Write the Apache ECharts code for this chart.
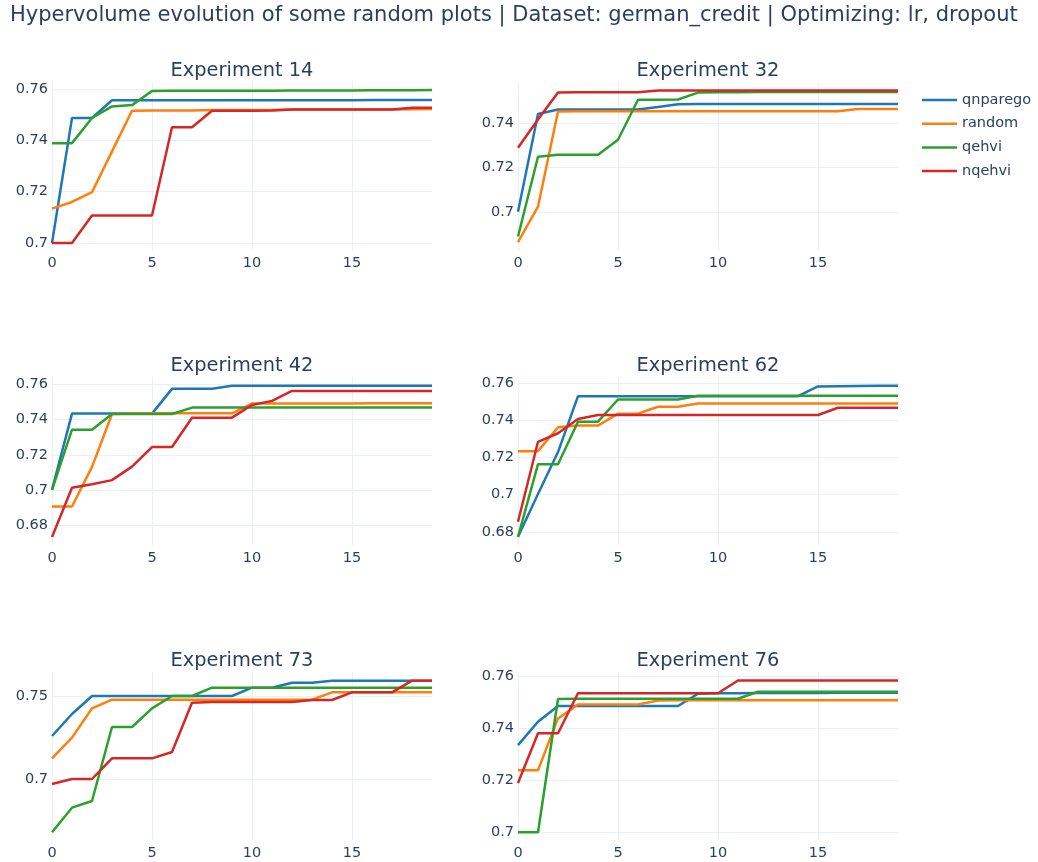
<!DOCTYPE html>
<html>
<head>
<meta charset="utf-8">
<script src="https://cdn.jsdelivr.net/npm/echarts@6/dist/echarts.min.js"></script>
<style>
html,body{margin:0;padding:0;background:#fff;}
#chart{width:1038px;height:862px;}
</style>
</head>
<body>
<div id="chart"></div>
<script>
// ---------- data ----------
const iterations = [0,1,2,3,4,5,6,7,8,9,10,11,12,13,14,15,16,17,18,19];
const seriesNames = ['qnparego','random','qehvi','nqehvi'];
const experimentTitles = ['Experiment 14','Experiment 32','Experiment 42','Experiment 62','Experiment 73','Experiment 76'];

const exp14_qnparego = [0.700,0.7487,0.7487,0.7556,0.7556,0.7556,0.7556,0.7556,0.7556,0.7556,0.7556,0.7556,0.7556,0.7556,0.7556,0.7556,0.7557,0.7557,0.7557,0.7557];
const exp14_random   = [0.7134,0.716,0.7198,0.7357,0.7515,0.7516,0.7516,0.7516,0.7518,0.7518,0.7518,0.7518,0.752,0.752,0.752,0.752,0.752,0.752,0.7521,0.7522];
const exp14_qehvi    = [0.7389,0.7389,0.7487,0.7532,0.7537,0.7592,0.7593,0.7593,0.7593,0.7593,0.7593,0.7593,0.7594,0.7594,0.7594,0.7594,0.7595,0.7595,0.7595,0.7596];
const exp14_nqehvi   = [0.700,0.700,0.7107,0.7107,0.7107,0.7107,0.7451,0.7451,0.7515,0.7515,0.7515,0.7516,0.752,0.752,0.752,0.752,0.752,0.752,0.7527,0.7527];

const exp32_qnparego = [0.700,0.7442,0.7463,0.7463,0.7463,0.7463,0.7463,0.7474,0.7486,0.7487,0.7487,0.7487,0.7487,0.7487,0.7487,0.7487,0.7487,0.7487,0.7487,0.7487];
const exp32_random   = [0.6863,0.7023,0.7454,0.7455,0.7455,0.7455,0.7455,0.7455,0.7455,0.7455,0.7455,0.7455,0.7455,0.7455,0.7455,0.7455,0.7455,0.7465,0.7465,0.7465];
const exp32_qehvi    = [0.6888,0.7249,0.7258,0.7258,0.7258,0.7326,0.7507,0.7507,0.7508,0.7539,0.7541,0.7541,0.7542,0.7542,0.7542,0.7542,0.7542,0.7542,0.7542,0.7542];
const exp32_nqehvi   = [0.729,0.7417,0.754,0.7541,0.7541,0.7541,0.7541,0.7548,0.7548,0.7548,0.7548,0.7548,0.7548,0.7548,0.7548,0.7548,0.7548,0.7548,0.7548,0.7548];

const exp42_qnparego = [0.7003,0.7434,0.7434,0.7434,0.7434,0.7434,0.7574,0.7574,0.7574,0.7591,0.7591,0.7591,0.7591,0.7591,0.7591,0.7591,0.7592,0.7592,0.7592,0.7592];
const exp42_random   = [0.6909,0.6909,0.7133,0.7432,0.7434,0.7436,0.7436,0.7436,0.7436,0.7436,0.7491,0.7491,0.7491,0.7491,0.7491,0.7491,0.7492,0.7492,0.7492,0.7492];
const exp42_qehvi    = [0.7003,0.7343,0.7343,0.7432,0.7432,0.7432,0.7432,0.7468,0.7468,0.7468,0.7468,0.7468,0.7468,0.7468,0.7468,0.7468,0.7468,0.7468,0.7468,0.7468];
const exp42_nqehvi   = [0.6736,0.7015,0.7034,0.7058,0.7134,0.7245,0.7245,0.7411,0.7411,0.7411,0.7483,0.7506,0.7562,0.7562,0.7562,0.7562,0.7562,0.7562,0.7562,0.7562];

const exp62_qnparego = [0.6773,0.7003,0.7228,0.7528,0.7528,0.7528,0.7528,0.7528,0.7528,0.7528,0.7528,0.7528,0.7528,0.7528,0.7528,0.758,0.7582,0.7583,0.7584,0.7584];
const exp62_random   = [0.7233,0.7233,0.7361,0.737,0.737,0.7434,0.7434,0.7471,0.7471,0.7489,0.7489,0.7489,0.7489,0.7489,0.7489,0.7489,0.7489,0.7489,0.7489,0.7489];
const exp62_qehvi    = [0.6773,0.7163,0.7163,0.7391,0.7391,0.751,0.751,0.751,0.751,0.753,0.753,0.753,0.753,0.753,0.753,0.753,0.753,0.753,0.753,0.753];
const exp62_nqehvi   = [0.6854,0.7283,0.7329,0.7405,0.7427,0.7427,0.7427,0.7427,0.7427,0.7427,0.7427,0.7427,0.7427,0.7427,0.7427,0.7427,0.7466,0.7466,0.7466,0.7466];

const exp73_qnparego = [0.726,0.7392,0.750,0.750,0.750,0.750,0.750,0.750,0.750,0.750,0.755,0.755,0.758,0.758,0.7592,0.7592,0.7592,0.7592,0.7592,0.7592];
const exp73_random   = [0.7126,0.725,0.7426,0.7478,0.7478,0.7478,0.7478,0.7478,0.7478,0.7478,0.7478,0.7478,0.7478,0.7478,0.7522,0.7522,0.7522,0.7522,0.7522,0.7522];
const exp73_qehvi    = [0.6682,0.683,0.687,0.7314,0.7314,0.7426,0.750,0.750,0.755,0.755,0.755,0.755,0.755,0.755,0.755,0.755,0.755,0.755,0.755,0.755];
const exp73_nqehvi   = [0.6972,0.7002,0.7002,0.7126,0.7126,0.7126,0.7164,0.746,0.7464,0.7464,0.7464,0.7464,0.7464,0.7476,0.7476,0.7522,0.7522,0.7522,0.7592,0.7592];

const exp76_qnparego = [0.7336,0.7426,0.7487,0.7487,0.7487,0.7487,0.7487,0.7487,0.7487,0.7534,0.7536,0.7536,0.7537,0.7537,0.7537,0.7537,0.7538,0.7538,0.7538,0.7538];
const exp76_random   = [0.7239,0.7239,0.7439,0.7493,0.7493,0.7493,0.7493,0.7508,0.7509,0.7509,0.7509,0.7509,0.7509,0.7509,0.7509,0.7509,0.7509,0.7509,0.7509,0.7509];
const exp76_qehvi    = [0.700,0.700,0.7514,0.7515,0.7515,0.7515,0.7515,0.7515,0.7515,0.7515,0.7515,0.7515,0.7542,0.7542,0.7542,0.7542,0.7542,0.7542,0.7542,0.7542];
const exp76_nqehvi   = [0.719,0.7382,0.7382,0.7536,0.7536,0.7536,0.7536,0.7536,0.7536,0.7536,0.7536,0.7585,0.7585,0.7585,0.7585,0.7585,0.7585,0.7585,0.7585,0.7585];

const experiments = [
  [exp14_qnparego, exp14_random, exp14_qehvi, exp14_nqehvi],
  [exp32_qnparego, exp32_random, exp32_qehvi, exp32_nqehvi],
  [exp42_qnparego, exp42_random, exp42_qehvi, exp42_nqehvi],
  [exp62_qnparego, exp62_random, exp62_qehvi, exp62_nqehvi],
  [exp73_qnparego, exp73_random, exp73_qehvi, exp73_nqehvi],
  [exp76_qnparego, exp76_random, exp76_qehvi, exp76_nqehvi]
];

// ---------- layout / style ----------
const colors = ['#1f77b4','#ff7f0e','#2ca02c','#d62728'];
const textColor = '#2a3f5f';
const gridColor = '#ebf0f8';
const font = '"DejaVu Sans", verdana, sans-serif';
const colLeft = [52, 518];
const rowTop = [82, 377, 672];
const plotW = 380, plotH = 168;
const yRanges = [
  [0.6973, 0.7627, 0.02, 3],
  [0.6827, 0.7587, 0.02, 4],
  [0.6691, 0.7641, 0.02, 4],
  [0.6729, 0.7631, 0.02, 4],
  [0.6636, 0.7644, 0.05, 2],
  [0.6970, 0.7618, 0.02, 3]
];

const grids = [], xAxes = [], yAxes = [], series = [];
const titles = [{
  text: 'Hypervolume evolution of some random plots | Dataset: german_credit | Optimizing: lr, dropout',
  left: 10, top: 6, padding: 0,
  textStyle: {fontFamily: font, fontSize: 21, lineHeight: 20, fontWeight: 'normal', color: textColor}
}];

experiments.forEach((exp, k) => {
  const col = k % 2, row = Math.floor(k / 2);
  const left = colLeft[col], top = rowTop[row];
  grids.push({left: left, top: top, width: plotW, height: plotH, containLabel: false});
  titles.push({
    text: experimentTitles[k],
    left: left + plotW / 2, top: top - 21, padding: 0,
    textAlign: 'center',
    textStyle: {fontFamily: font, fontSize: 19.4, lineHeight: 20, fontWeight: 'normal', color: textColor}
  });
  xAxes.push({
    type: 'value', gridIndex: k, min: 0, max: 19, interval: 5,
    axisLine: {show: false}, axisTick: {show: false},
    axisLabel: {color: textColor, fontFamily: font, fontSize: 14.5, margin: 6, showMaxLabel: false},
    splitLine: {show: true, showMaxLine: false, lineStyle: {color: gridColor, width: 1}}
  });
  const yr = yRanges[k];
  yAxes.push({
    type: 'value', gridIndex: k, min: yr[0], max: yr[1], splitNumber: yr[3],
    minInterval: yr[2], maxInterval: yr[2],
    axisLine: {show: false}, axisTick: {show: false},
    axisLabel: {
      color: textColor, fontFamily: font, fontSize: 14.5, margin: 4,
      showMinLabel: false, showMaxLabel: false,
      formatter: v => parseFloat(v.toFixed(4)).toString()
    },
    splitLine: {show: true, showMinLine: false, showMaxLine: false, lineStyle: {color: gridColor, width: 1}}
  });
  exp.forEach((vals, s) => {
    series.push({
      name: seriesNames[s], type: 'line', xAxisIndex: k, yAxisIndex: k,
      data: iterations.map((x, i) => [x, vals[i]]),
      symbol: 'none', showSymbol: false,
      lineStyle: {color: colors[s], width: 2.5},
      itemStyle: {color: colors[s]},
      animation: false
    });
  });
});

const chart = echarts.init(document.getElementById('chart'), null, {renderer: 'canvas'});
chart.setOption({
  animation: false,
  backgroundColor: '#ffffff',
  title: titles,
  legend: {
    data: seriesNames, orient: 'vertical', left: 917, top: 86,
    icon: 'rect', itemWidth: 35, itemHeight: 2.5, itemGap: 5.7,
    textStyle: {color: textColor, fontFamily: font, fontSize: 14.5, lineHeight: 18}
  },
  grid: grids, xAxis: xAxes, yAxis: yAxes, series: series
});
</script>
</body>
</html>
